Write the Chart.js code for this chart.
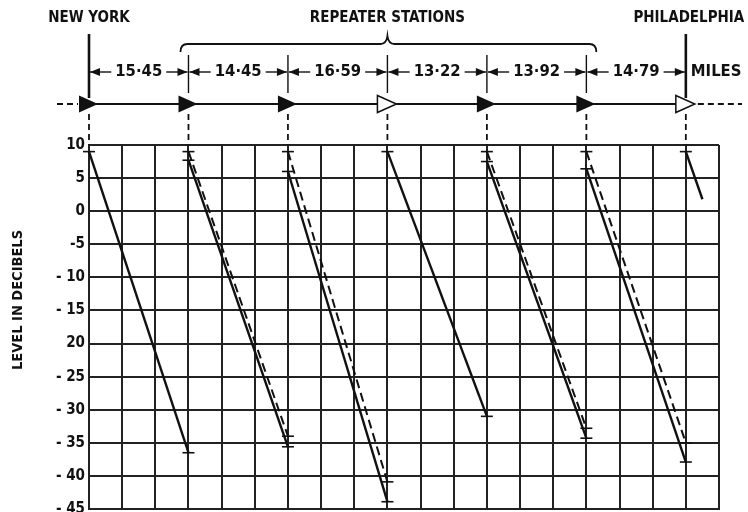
<!DOCTYPE html>
<html>
<head>
<meta charset="utf-8">
<script src="https://cdn.jsdelivr.net/npm/chart.js@4/dist/chart.umd.min.js"></script>
<style>
  html, body { margin: 0; padding: 0; background: #fff; }
  #wrap { width: 748px; height: 512px; position: relative; }
</style>
</head>
<body>
<div id="wrap"><canvas id="level_chart"></canvas></div>
<script>
// STATIONS (grid position along the route, one grid cell per step)
const stationPos = [0, 3, 6, 9, 12, 15, 18];
const stationHollow = [false, false, false, true, false, false, true];
const spanMiles = ['15·45', '14·45', '16·59', '13·22', '13·92', '14·79'];

// LEVELS IN DB (solid = one condition, dashed = the other)
const segEndPos = [3, 6, 9, 12, 15, 18, 18.5];
const solidTop = [9, 7.7, 6, 9, 7.5, 6.4, 9];
const solidBottom = [-36.5, -35.6, -43.9, -31, -34.3, -37.9, 1.8];
const dashedTop = [null, 9, 9, null, 9, 9, null];
const dashedBottom = [null, -34, -40.9, null, -32.8, -35, null];

// Y TICKS
const yTickValues = [10, 5, 0, -5, -10, -15, -20, -25, -30, -35, -40, -45];
const yTickLabels = ['10', '5', '0', '-5', '- 10', '- 15', '20', '- 25', '- 30', '- 35', '- 40', '- 45'];

const INK = '#111';
const FONT = '"DejaVu Sans Condensed", "Liberation Sans Narrow", "DejaVu Sans", sans-serif';

// BUILD DATASETS
let datasets = [];
segEndPos.forEach((endX, i) => {
	const last = i == segEndPos.length - 1;
	datasets.push({
		data: [{ x: stationPos[i], y: solidTop[i] }, { x: endX, y: solidBottom[i] }],
		borderColor: INK,
		borderWidth: 2.4,
		pointStyle: 'line',
		pointRadius: last ? [6, 0] : [6, 6],
		pointBorderColor: INK,
		pointBorderWidth: 1.6,
		clip: false
	});
	if (dashedTop[i] !== null) {
		datasets.push({
			data: [{ x: stationPos[i], y: dashedTop[i] }, { x: endX, y: dashedBottom[i] }],
			borderColor: INK,
			borderWidth: 2,
			borderDash: [9, 5],
			pointStyle: 'line',
			pointRadius: [6, 6],
			pointBorderColor: INK,
			pointBorderWidth: 1.6,
			clip: false
		});
	}
});

// ARROW HELPER
function arrowLine(c, x1, x2, y) {
	c.beginPath();
	c.moveTo(x1, y);
	c.lineTo(x2, y);
	c.stroke();
	const dir = x2 > x1 ? 1 : -1;
	c.beginPath();
	c.moveTo(x2, y);
	c.lineTo(x2 - dir * 10, y - 4);
	c.lineTo(x2 - dir * 10, y + 4);
	c.closePath();
	c.fill();
}

// TOP DIAGRAM + AXIS TITLE
const headerPlugin = {
	id: 'header',
	afterDraw(chart) {
		const c = chart.ctx;
		const area = chart.chartArea;
		const xs = chart.scales.x;
		const px = stationPos.map(s => xs.getPixelForValue(s));
		c.save();
		c.fillStyle = INK;
		c.strokeStyle = INK;
		c.textBaseline = 'middle';
		c.textAlign = 'center';

		// town names
		c.font = 'bold 15px ' + FONT;
		c.fillText('NEW YORK', px[0], 18);
		const mid = (px[1] + px[5]) / 2;
		c.fillText('REPEATER STATIONS', mid, 18);
		c.fillText('PHILADELPHIA', px[6] + 3, 18);

		// bracket
		const bl = px[1] - 8, br = px[5] + 10;
		c.lineWidth = 1.8;
		c.beginPath();
		c.moveTo(bl, 52);
		c.quadraticCurveTo(bl, 44, bl + 7, 44);
		c.lineTo(mid - 7, 44);
		c.quadraticCurveTo(mid - 1, 44, mid, 36);
		c.quadraticCurveTo(mid + 1, 44, mid + 7, 44);
		c.lineTo(br - 7, 44);
		c.quadraticCurveTo(br, 44, br, 52);
		c.stroke();

		// station lines in the mileage row
		px.forEach((x, i) => {
			const end = i == 0 || i == px.length - 1;
			c.lineWidth = end ? 2.6 : 1.4;
			c.beginPath();
			c.moveTo(x, end ? 34 : 55);
			c.lineTo(x, end ? 98 : 93);
			c.stroke();
		});

		// mileage dimensions
		c.font = 'bold 16.5px ' + FONT;
		c.lineWidth = 1.4;
		spanMiles.forEach((txt, i) => {
			const cx = (px[i] + px[i + 1]) / 2;
			const w = c.measureText(txt).width;
			c.fillText(txt, cx, 72);
			arrowLine(c, cx - w / 2 - 4, px[i] + 1, 72);
			arrowLine(c, cx + w / 2 + 4, px[i + 1] - 1, 72);
		});
		c.textAlign = 'left';
		c.fillText('MILES', px[6] + 5, 72);

		// signal line with repeaters
		const ly = 104;
		c.lineWidth = 1.8;
		c.beginPath();
		c.moveTo(px[0], ly);
		c.lineTo(px[6], ly);
		c.stroke();
		c.setLineDash([6, 4]);
		c.beginPath();
		c.moveTo(57, ly);
		c.lineTo(px[0] - 11, ly);
		c.moveTo(px[6] + 12, ly);
		c.lineTo(742, ly);
		c.stroke();
		c.setLineDash([]);
		px.forEach((x, i) => {
			c.beginPath();
			c.moveTo(x - 10, ly - 8.5);
			c.lineTo(x + 9, ly);
			c.lineTo(x - 10, ly + 8.5);
			c.closePath();
			if (stationHollow[i]) {
				c.fillStyle = '#fff';
				c.fill();
				c.lineWidth = 1.5;
				c.stroke();
				c.fillStyle = INK;
			} else {
				c.fill();
			}
		});

		// dashed drops to the grid
		c.lineWidth = 1.8;
		c.setLineDash([6, 4]);
		px.forEach(x => {
			c.beginPath();
			c.moveTo(x, ly + 10);
			c.lineTo(x, area.top);
			c.stroke();
		});
		c.setLineDash([]);

		// y axis title
		c.translate(18, 300);
		c.rotate(-Math.PI / 2);
		c.textAlign = 'center';
		c.font = 'bold 14.5px ' + FONT;
		c.fillText('LEVEL IN DECIBELS', 0, 0);
		c.restore();
	}
};

const ctx = document.getElementById('level_chart').getContext('2d');
new Chart(ctx, {
	type: 'line',
	data: { datasets: datasets },
	options: {
		responsive: true,
		maintainAspectRatio: false,
		animation: false,
		layout: { autoPadding: false, padding: { left: 0, top: 145, right: 29, bottom: 3 } },
		plugins: { legend: { display: false }, tooltip: { enabled: false } },
		scales: {
			x: {
				type: 'linear',
				min: 0,
				max: 19,
				ticks: { display: false, stepSize: 1 },
				grid: { color: '#222', lineWidth: 2, drawTicks: false },
				border: { color: '#222', width: 2 },
				afterFit: scale => { scale.height = 0; }
			},
			y: {
				min: -45,
				max: 10,
				ticks: {
					stepSize: 5,
					padding: 4,
					color: INK,
					font: { family: FONT, size: 15, weight: 'bold', lineHeight: 0.4 },
					callback: v => yTickLabels[yTickValues.indexOf(v)]
				},
				grid: { color: '#222', lineWidth: 2, drawTicks: false },
				border: { color: '#222', width: 2 },
				afterFit: scale => {
					scale.width = 89;
					scale.paddingTop = 0;
					scale.paddingBottom = 0;
				}
			}
		}
	},
	plugins: [headerPlugin]
});
</script>
</body>
</html>
